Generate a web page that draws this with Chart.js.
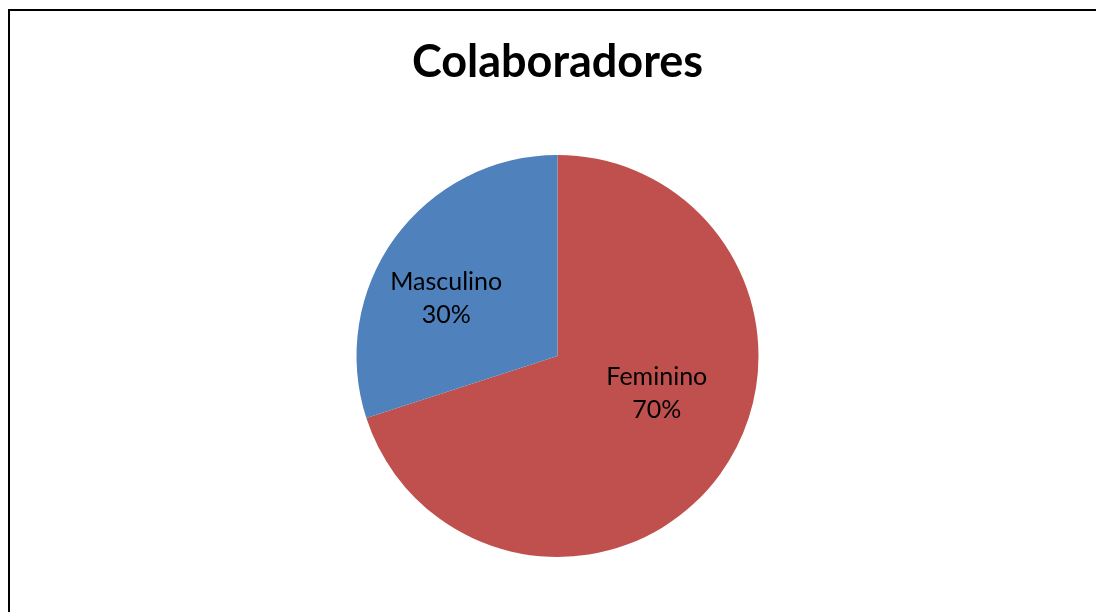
<!DOCTYPE html>
<html>
<head>
<meta charset="utf-8">
<script src="https://cdn.jsdelivr.net/npm/chart.js@4"></script>
<style>
    html, body { margin: 0; padding: 0; background: #fff; overflow: hidden; }
    #wrap { position: relative; width: 1096px; height: 612px; }
    #frame {
        position: absolute; left: 8px; top: 9px;
        width: 1200px; height: 700px;
        border: 2px solid #000; box-sizing: border-box;
    }
    canvas { position: absolute; left: 0; top: 0; }
</style>
</head>
<body>
<div id="wrap">
    <div id="frame"></div>
    <canvas id="pieChart" width="1096" height="612"></canvas>
</div>
<script>
const chartTitle = 'Colaboradores';
const categories = ['Feminino', 'Masculino'];
const values = [70, 30];
const sliceColors = ['#C0504D', '#4F81BD'];

// etiquetas dentro das fatias: nome + percentagem
const sliceLabels = {
    id: 'sliceLabels',
    afterDatasetsDraw(chart, args, opts) {
        const ctx = chart.ctx;
        const meta = chart.getDatasetMeta(0);
        const total = values.reduce((a, b) => a + b, 0);
        ctx.save();
        ctx.fillStyle = '#000';
        ctx.font = '25px Lato';
        ctx.textAlign = 'center';
        ctx.textBaseline = 'middle';
        meta.data.forEach((arc, i) => {
            const p = arc.getProps(['x', 'y', 'startAngle', 'endAngle', 'outerRadius'], true);
            const mid = (p.startAngle + p.endAngle) / 2;
            const r = p.outerRadius * 0.58;
            const nudge = opts.nudge[i] || [0, 0];
            const x = p.x + Math.cos(mid) * r + nudge[0];
            const y = p.y + Math.sin(mid) * r + nudge[1];
            const pct = Math.round(values[i] / total * 100) + '%';
            ctx.fillText(categories[i], x, y - 16);
            ctx.fillText(pct, x, y + 17);
        });
        ctx.restore();
    }
};

new Chart(document.getElementById('pieChart').getContext('2d'), {
    type: 'pie',
    data: {
        labels: categories,
        datasets: [{
            data: values,
            backgroundColor: sliceColors,
            borderWidth: 0
        }]
    },
    options: {
        responsive: false,
        animation: false,
        layout: { padding: { left: 19, right: 0, top: 0, bottom: 55 } },
        plugins: {
            legend: { display: false },
            tooltip: { enabled: false },
            sliceLabels: { nudge: [[5, -32], [-17, 10]] },
            title: {
                display: true,
                text: chartTitle,
                color: '#000',
                font: { family: 'Lato', size: 45, weight: 'bold', lineHeight: 1.2 },
                padding: { top: 35, bottom: 66 }
            }
        }
    },
    plugins: [sliceLabels]
});
</script>
</body>
</html>
